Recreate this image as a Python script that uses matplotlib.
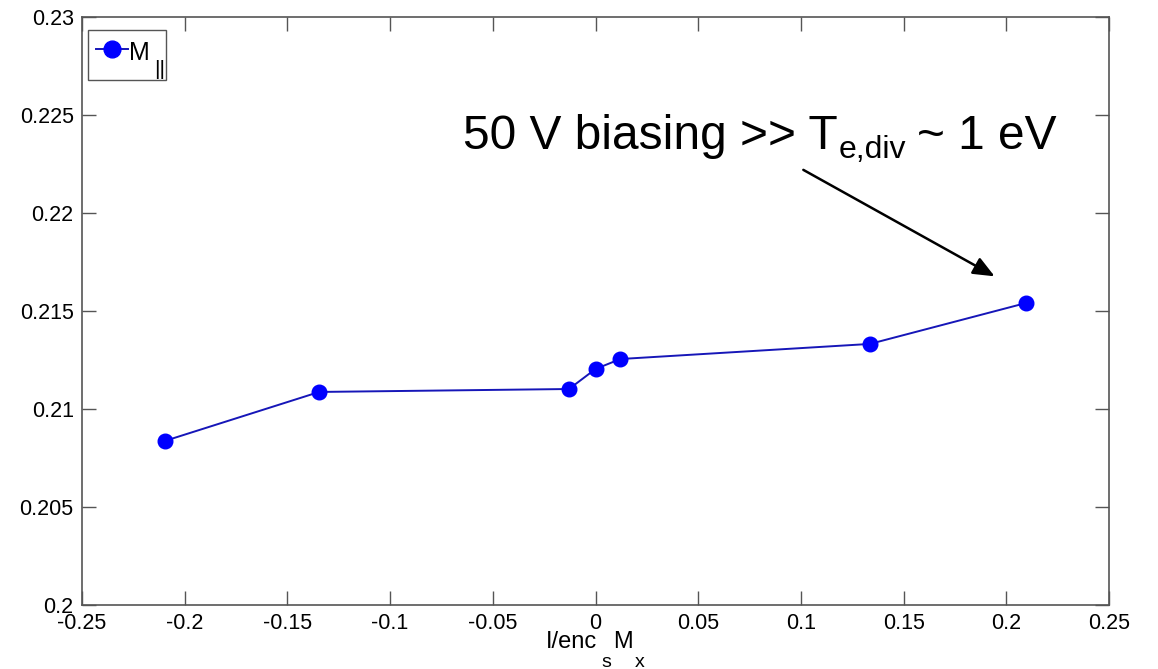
import matplotlib
matplotlib.use("Agg")
import matplotlib.pyplot as plt
from matplotlib.transforms import Affine2D
from matplotlib.patches import Rectangle

plt.rcParams['font.family'] = ['Liberation Sans', 'DejaVu Sans']

# ---- data ----
x_vals = [-0.2097, -0.1345, -0.0129, 0.0, 0.0121, 0.1336, 0.2097]
m_par = [0.20837, 0.21087, 0.21102, 0.21204, 0.21255, 0.21332, 0.21541]
x_ticks = [-0.25, -0.2, -0.15, -0.1, -0.05, 0, 0.05, 0.1, 0.15, 0.2, 0.25]
x_ticklabels = ['-0.25', '-0.2', '-0.15', '-0.1', '-0.05', '0', '0.05', '0.1', '0.15', '0.2', '0.25']
y_ticks = [0.2, 0.205, 0.21, 0.215, 0.22, 0.225, 0.23]
y_ticklabels = ['0.2', '0.205', '0.21', '0.215', '0.22', '0.225', '0.23']

W, H = 1158, 669
fig = plt.figure(figsize=(W / 100, H / 100), dpi=100)
ax = fig.add_axes([82 / W, 1 - 605 / H, 1027 / W, 588 / H])

# pixel transform: (x from left, y from top) -> display
PX = Affine2D().scale(1, -1).translate(0, H)

ax.plot(x_vals, m_par, color='#1616b8', lw=1.4, marker='o', markersize=10.5,
        markerfacecolor='#0000ff', markeredgecolor='#0000ff', label='M')

ax.set_xlim(-0.25, 0.25)
ax.set_ylim(0.2, 0.23)
ax.set_xticks(x_ticks)
ax.set_xticklabels(x_ticklabels)
ax.set_yticks(y_ticks)
ax.set_yticklabels(y_ticklabels)
ax.tick_params(direction='in', length=10, width=1, color='#555555', labelsize=15.5,
               top=True, right=True, pad=6)
for s in ax.spines.values():
    s.set_color('#555555')
    s.set_linewidth(1.2)

leg = ax.legend(loc='upper left', bbox_to_anchor=(6 / 1027, 1 - 13 / 588), borderaxespad=0,
                fontsize=18, handlelength=1.3, handleheight=1.4, handletextpad=0.05,
                borderpad=0.3, frameon=False, markerscale=1.15)
leg.set_zorder(6)

ax.annotate('', xy=(0.1955, 0.21670), xytext=(0.1000, 0.22227),
            arrowprops=dict(arrowstyle='-|>,head_length=1.3,head_width=0.55',
                            color='black', lw=1.8))

fig.canvas.draw()
renderer = fig.canvas.get_renderer()


def runs(parts, x0, center=False):
    """parts: list of (text, fontsize, baseline_px_from_top, gap_before_px)"""
    arts = []
    x = x0
    for txt, size, base, gap in parts:
        x += gap
        t = fig.text(x, base, txt, fontsize=size, ha='left', va='baseline', transform=PX)
        bb = t.get_window_extent(renderer)
        arts.append(t)
        x += bb.width
    if center:
        total = x - x0
        shift = -total / 2
        for t in arts:
            px, py = t.get_position()
            t.set_position((px + shift, py))
    return arts


# x-axis label with strongly dropped subscripts
runs([('I/enc', 17, 648, 0), ('s', 14, 667, 4), ('M', 17, 648, 2), ('x', 14, 667, 2)],
     595, center=True)

# annotation text
runs([('50 V biasing >> T', 34.5, 149, 0), ('e,div', 23, 158, 1), ('~ 1 eV', 34.5, 149, 11)],
     463)

# legend frame (wide enough for the dropped "||" subscript) and the subscript itself
lbb = leg.get_window_extent(renderer)
ltop = H - lbb.y1
ax.add_patch(Rectangle((lbb.x0, ltop), 78, 50, transform=PX, fill=True, clip_on=False,
                       facecolor='white', edgecolor='#555555', lw=1.0, zorder=5))
text_bb = leg.get_texts()[0].get_window_extent(renderer)
ax.text(text_bb.x1 + 4, ltop + 45, '||', fontsize=15, ha='left', va='baseline',
        transform=PX, zorder=7, clip_on=False)

fig.savefig('out.png', dpi=100)
